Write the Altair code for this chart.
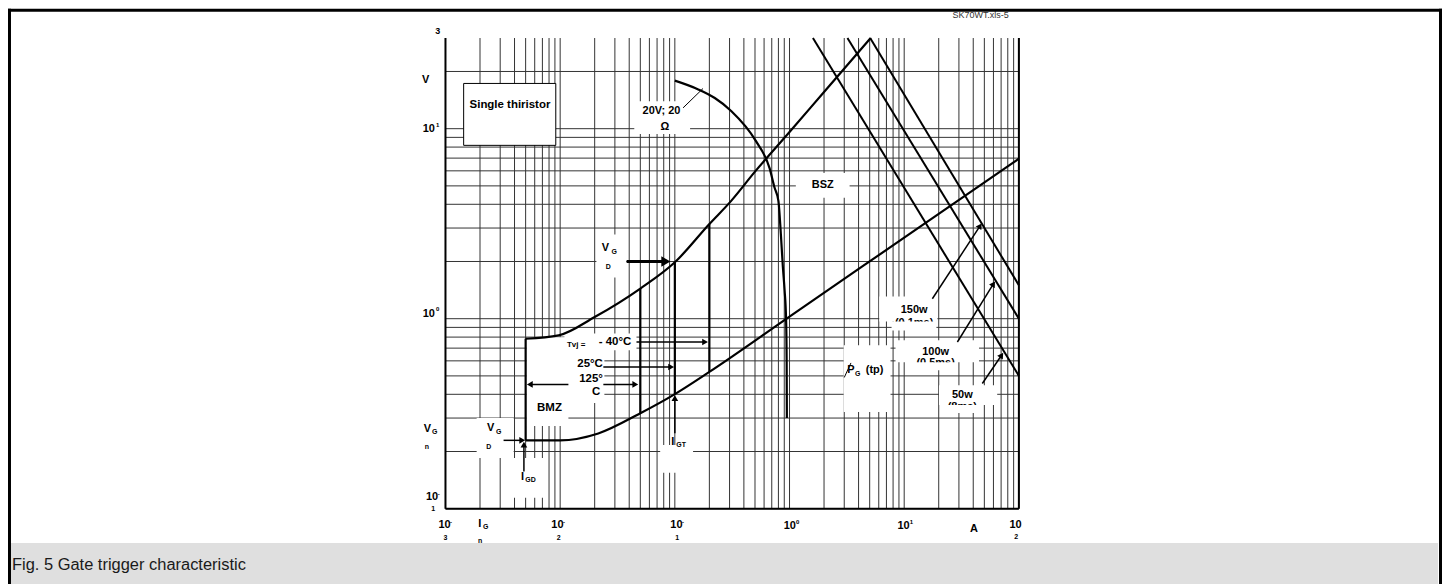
import altair as alt
import pandas as pd

# ---------------- values ----------------
# log grid
x_decades = [0.001, 0.01, 0.1, 1, 10]
y_decades = [0.1, 1]
mult = [1, 2, 3, 4, 5, 6, 7, 8, 9]
x_grid = [d * m for d in x_decades for m in mult] + [100]
y_grid = [d * m for d in y_decades for m in mult] + [10, 20]

# gate characteristic: upper limit curve (A, V)
upper_I = [0.005, 0.0097, 0.02, 0.05, 0.1, 0.2, 0.31, 0.5, 1.0, 2.0, 5.1]
upper_V = [0.785, 0.817, 1.02, 1.44, 1.98, 3.15, 4.17, 5.94, 9.6, 15.6, 30.0]
# lower limit curve
lower_I = [0.005, 0.01, 0.0215, 0.05, 0.1, 0.2, 1.0, 10.0, 100.0]
lower_V = [0.229, 0.229, 0.249, 0.318, 0.401, 0.525, 1.026, 2.67, 6.95]
# 20 V ; 20 ohm load line
load_I = [0.1, 0.16, 0.223, 0.31, 0.51, 0.67, 0.74, 0.80, 0.84, 0.875, 0.906, 0.933, 0.944, 0.948]
load_V = [17.9, 16.1, 14.5, 12.4, 8.6, 6.2, 4.9, 4.17, 2.8, 1.87, 1.41, 1.0, 0.604, 0.3]
# vertical trigger limits (BMZ edge, 125C, 25C, -40C)
trig_I = [0.005, 0.05, 0.1, 0.2]
trig_lo = [0.229, 0.318, 0.401, 0.525]
trig_hi = [0.785, 1.44, 1.98, 3.15]
# peak gate power lines
pw_name = ["50w", "100w", "150w"]
pw_I_top = [1.6, 3.2, 5.05]
pw_V_top = [30, 30, 30]
pw_I_end = [100, 100, 100]
pw_V_end = [0.5, 1.0, 1.5]

# arrows: shaft (x1,y1)->(x2,y2), width ; head direction, size
ar_x1 = [0.038, 0.0463, 0.0238, 0.0238, 0.0118, 0.00321, 0.00483, 0.1, 17.6, 29.1, 48.0]
ar_y1 = [2.0, 0.754, 0.557, 0.451, 0.451, 0.229, 0.157, 0.2494, 1.273, 0.754, 0.456]
ar_x2 = [0.0835, 0.1835, 0.0929, 0.0452, 0.00544, 0.00467, 0.00483, 0.1, 45.9, 60.0, 70.7]
ar_y2 = [2.0, 0.754, 0.557, 0.451, 0.451, 0.229, 0.2174, 0.382, 3.08, 1.524, 0.642]
ar_w = [3.0, 1.5, 1.5, 1.5, 1.5, 1.5, 1.5, 1.5, 1.5, 1.5, 1.5]
ar_ang = [90, 90, 90, 90, 270, 90, 0, 0, 33, 32, 34]
ar_size = [110, 45, 45, 45, 45, 45, 45, 45, 45, 45, 45]

# white label backgrounds (x1, x2, y1, y2)
box_x1 = [0.0443, 1.135, 0.0207, 0.0109, 0.00509, 0.00509, 0.00187, 0.00393, 0.0745, 2.965, 6.06, 8.4, 20.1]
box_x2 = [0.1358, 3.34, 0.0377, 0.0463, 0.0243, 0.0118, 0.00393, 0.00716, 0.1442, 7.6, 19.48, 44.9, 64.7]
box_y1 = [9.37, 4.33, 1.647, 0.682, 0.36, 0.2724, 0.185, 0.1142, 0.1545, 0.3226, 0.968, 0.590, 0.351]
box_y2 = [13.95, 5.85, 2.77, 0.837, 0.798, 0.36, 0.30, 0.185, 0.2166, 0.7244, 1.309, 0.7693, 0.4468]

# half-hidden second lines of the power labels and their covers
cut_t = ["(0.1ms)", "(0.5ms)", "(8ms)"]
cut_x = [12.2, 18.8, 32.1]
cut_y = [0.948, 0.581, 0.344]
cov_x1 = [7.76, 12.5, 23.3]
cov_x2 = [19.1, 28.5, 44.3]
cov_y1 = [0.868, 0.5357, 0.3187]
cov_y2 = [0.968, 0.590, 0.351]

# bold texts (label, x, y, font size)
txt = [
    ("Single thiristor", 0.00365, 13.25, 11.5),
    ("20V; 20", 0.0765, 12.37, 11), ("Ω", 0.0818, 10.2, 11),
    ("BSZ", 1.95, 5.04, 11),
    ("V", 0.0248, 2.345, 11), ("G", 0.0296, 2.25, 7), ("D", 0.0263, 1.88, 7),
    ("Tvj =", 0.01377, 0.7244, 8), ("- 40°C", 0.0301, 0.754, 11.5),
    ("25°C", 0.01824, 0.5759, 11.5), ("125°", 0.0186, 0.4806, 11.5), ("C", 0.0206, 0.409, 11.5),
    ("BMZ", 0.00807, 0.3398, 11.5),
    ("V", 0.00248, 0.265, 11), ("G", 0.00291, 0.2533, 7), ("D", 0.00238, 0.2122, 7),
    ("I", 0.0047, 0.1477, 11), ("GD", 0.00552, 0.1419, 7),
    ("I", 0.0957, 0.2254, 11), ("GT", 0.1135, 0.2166, 7),
    ("P", 3.434, 0.5357, 11), ("G", 3.926, 0.5146, 7), ("(tp)", 5.515, 0.5357, 11),
    ("150w", 12.2, 1.115, 11), ("100w", 18.8, 0.668, 11), ("50w", 32.1, 0.396, 11),
    # axis-like labels
    ("3", 0.000857, 32.8, 9), ("V", 0.00067, 18.14, 11),
    ("10", 0.000716, 9.92, 11), ("1", 0.000855, 10.5, 6),
    ("10", 0.000716, 1.062, 11), ("0", 0.000855, 1.125, 6),
    ("V", 0.000695, 0.2618, 11), ("G", 0.000807, 0.2518, 7), ("n", 0.000688, 0.2122, 7),
    ("10", 0.000764, 0.1151, 11), ("-", 0.000875, 0.1199, 6), ("1", 0.00078, 0.0996, 7),
    ("10", 0.00098, 0.0818, 11), ("-", 0.001119, 0.0848, 6), ("3", 0.001, 0.0702, 7),
    ("I", 0.001987, 0.0834, 11), ("G", 0.002241, 0.0804, 7), ("n", 0.002, 0.0674, 7),
    ("10", 0.00947, 0.0818, 11), ("-", 0.01079, 0.0848, 6), ("2", 0.0097, 0.0703, 7),
    ("10", 0.1033, 0.0818, 11), ("-", 0.118, 0.0848, 6), ("1", 0.1046, 0.0702, 7),
    ("10", 1.006, 0.0808, 11), ("0", 1.18, 0.0855, 6),
    ("10", 9.86, 0.0808, 11), ("1", 11.55, 0.0855, 6),
    ("A", 40.6, 0.0782, 11),
    ("10", 93.4, 0.0818, 11), ("2", 94.8, 0.0711, 7),
]
file_tag = "SK70WT.xls-5"
caption = "Fig. 5 Gate trigger characteristic"

# ---------------- chart ----------------
W, H = 575, 472
PL, PT = 438.7, 29.3
SVG_W, SVG_H = 1438, 576
FONT = "Liberation Sans"

xs = alt.Scale(type="log", domain=[0.001, 100], nice=False, zero=False)
ys = alt.Scale(type="log", domain=[0.1, 30], nice=False, zero=False)


def X(f="x"):
    return alt.X(f"{f}:Q", scale=xs, axis=None)


def Y(f="y"):
    return alt.Y(f"{f}:Q", scale=ys, axis=None)


one = pd.DataFrame({"a": [0]})

vgrid = alt.Chart(pd.DataFrame({"x": x_grid})).mark_rule(color="#333333", strokeWidth=1).encode(x=X())
hgrid = alt.Chart(pd.DataFrame({"y": y_grid})).mark_rule(color="#333333", strokeWidth=1).encode(y=Y())

boxes = alt.Chart(pd.DataFrame({"x": box_x1, "x2": box_x2, "y": box_y1, "y2": box_y2})).mark_rect(
    fill="white").encode(x=X(), x2="x2:Q", y=Y(), y2="y2:Q")

single = alt.Chart(pd.DataFrame({"x": [0.00144], "x2": [0.00916], "y": [8.17], "y2": [17.3]})).mark_rect(
    fill="white", stroke="black", strokeWidth=1).encode(x=X(), x2="x2:Q", y=Y(), y2="y2:Q")

cut_text = alt.Chart(pd.DataFrame({"t": cut_t, "x": cut_x, "y": cut_y})).mark_text(
    font=FONT, fontWeight="bold", fontSize=11, color="black").encode(x=X(), y=Y(), text="t:N")
covers = alt.Chart(pd.DataFrame({"x": cov_x1, "x2": cov_x2, "y": cov_y1, "y2": cov_y2})).mark_rect(
    fill="white").encode(x=X(), x2="x2:Q", y=Y(), y2="y2:Q")


def curve(I, V, w=2.2):
    return alt.Chart(pd.DataFrame({"x": I, "y": V})).mark_line(
        color="black", strokeWidth=w, interpolate="monotone").encode(x=X(), y=Y())


upper = curve(upper_I, upper_V)
lower = curve(lower_I, lower_V)
load = curve(load_I, load_V)

trig = alt.Chart(pd.DataFrame({"x": trig_I, "y": trig_lo, "y2": trig_hi})).mark_rule(
    color="black", strokeWidth=2.2).encode(x=X(), y=Y(), y2="y2:Q")

pw_rows = []
for n, a, b, c, d in zip(pw_name, pw_I_top, pw_V_top, pw_I_end, pw_V_end):
    pw_rows += [{"n": n, "x": a, "y": b}, {"n": n, "x": c, "y": d}]
power = alt.Chart(pd.DataFrame(pw_rows)).mark_line(color="black", strokeWidth=2).encode(
    x=X(), y=Y(), detail="n:N")

ar_df = pd.DataFrame({"x": ar_x1, "y": ar_y1, "x2": ar_x2, "y2": ar_y2, "w": ar_w,
                      "ang": ar_ang, "s": ar_size})
shafts = alt.Chart(ar_df).mark_rule(color="black").encode(
    x=X(), y=Y(), x2="x2:Q", y2="y2:Q", strokeWidth=alt.StrokeWidth("w:Q", scale=None))
heads = alt.Chart(ar_df).mark_point(filled=True, color="black", opacity=1, shape="triangle-up",
                                    strokeWidth=0).encode(
    x=alt.X("x2:Q", scale=xs, axis=None), y=alt.Y("y2:Q", scale=ys, axis=None),
    angle=alt.Angle("ang:Q", scale=None), size=alt.Size("s:Q", scale=None))

leader = alt.Chart(pd.DataFrame({"x": [0.118, 3.0], "y": [12.87, 0.4904],
                                 "x2": [0.176, 3.434], "y2": [16.27, 0.5851]})).mark_rule(
    color="black", strokeWidth=1).encode(x=X(), y=Y(), x2="x2:Q", y2="y2:Q")

tdf = pd.DataFrame(txt, columns=["t", "x", "y", "s"])
texts = alt.Chart(tdf).mark_text(font=FONT, fontWeight="bold", color="black",
                                 align="center", baseline="middle").encode(
    x=X(), y=Y(), text="t:N", size=alt.Size("s:Q", scale=None))

tag = alt.Chart(pd.DataFrame({"t": [file_tag], "x": [46.4], "y": [39.7]})).mark_text(
    font=FONT, fontSize=9, color="#333333", baseline="middle").encode(x=X(), y=Y(), text="t:N")

frame = alt.Chart(pd.DataFrame({"x": [0.001, 0.001, 100], "y": [0.1, 0.1, 0.1],
                                "x2": [0.001, 100, 100], "y2": [30, 0.1, 30]})).mark_rule(
    color="black", strokeWidth=2).encode(x=X(), y=Y(), x2="x2:Q", y2="y2:Q")


def px_rect(x1, x2, y1, y2, color):
    # page-level decoration given in page pixels
    return alt.Chart(one).mark_rect(fill=color).encode(
        x=alt.value(x1 - 8 - PL), x2=alt.value(x2 - 8 - PL),
        y=alt.value(y1 - 8 - PT), y2=alt.value(y2 - 8 - PT))


cap_box = px_rect(6, 1442, 543.7, 600, "#dfdfdf")
cap_text = alt.Chart(pd.DataFrame({"t": [caption]})).mark_text(
    font=FONT, fontSize=16.5, color="#1a1a1a", align="left", baseline="alphabetic").encode(
    x=alt.value(12 - 8 - PL), y=alt.value(571 - 8 - PT), text="t:N")
b_top = px_rect(8, 1446, 8, 11, "black")
b_left = px_rect(8, 11, 8, 600, "black")
b_right = px_rect(1443, 1446, 8, 600, "black")

chart = alt.layer(
    vgrid, hgrid, boxes, cut_text, covers, single,
    load, upper, lower, trig, power, shafts, heads, leader,
    texts, tag, frame, cap_box, cap_text, b_top, b_left, b_right,
).properties(
    width=W, height=H,
    padding={"left": PL, "top": PT, "right": SVG_W - PL - W, "bottom": SVG_H - PT - H},
    autosize=alt.AutoSizeParams(type="none"),
    background="white",
).configure_view(stroke=None)

chart.save("out.html", embed_options={"renderer": "svg", "actions": False})
